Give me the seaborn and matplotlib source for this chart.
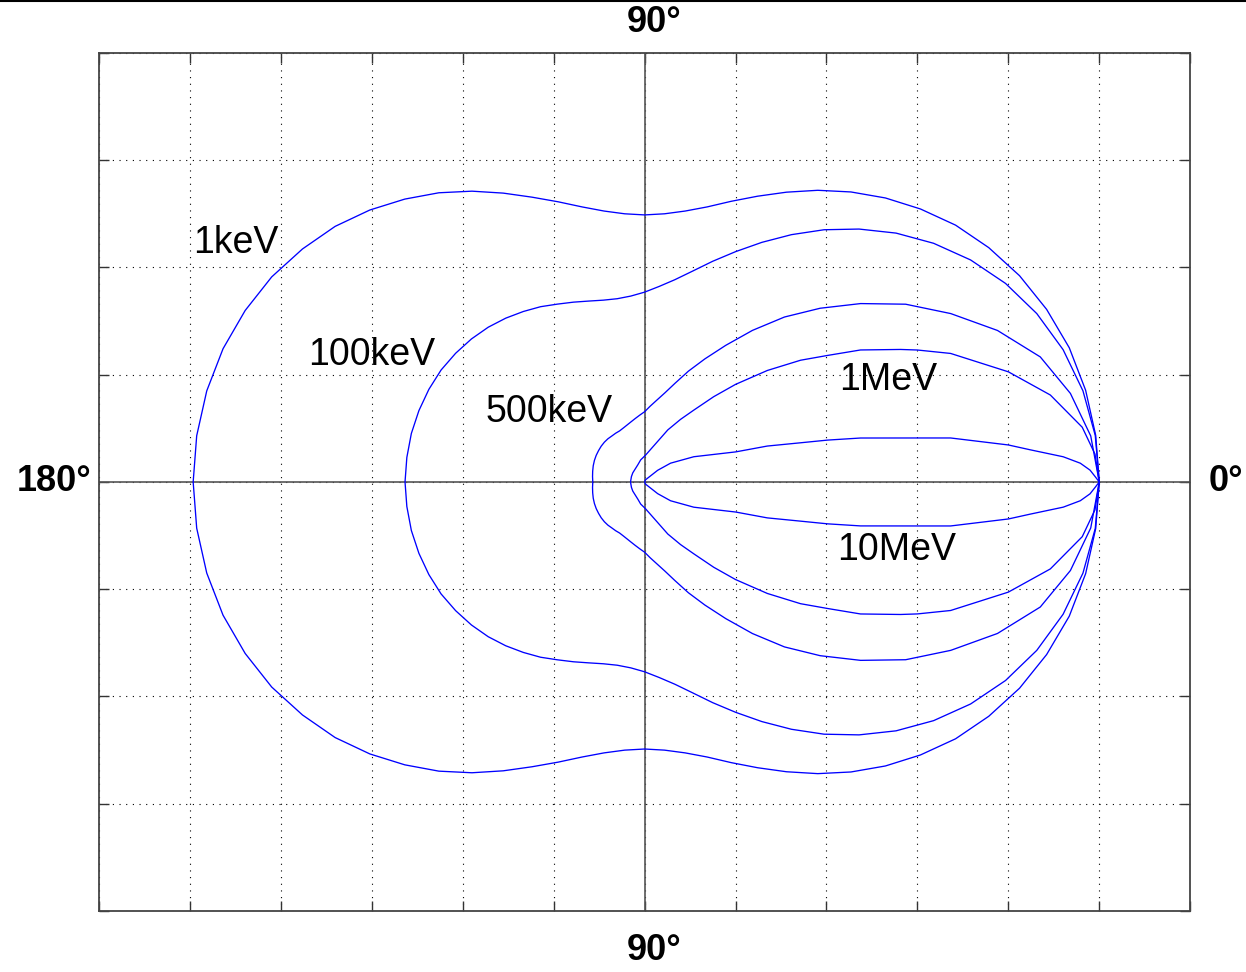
import numpy as np
import pandas as pd
import seaborn as sns
import matplotlib.pyplot as plt

# polar readings of the upper half of each curve: angle (deg) and relative radius
# (the lower half is the mirror image)
labels = ['1keV', '100keV', '500keV', '1MeV', '10MeV']

angles_5 = list(range(0, 181, 5))

r_1kev = [1.000, 0.996, 0.985, 0.967, 0.941, 0.910, 0.874, 0.835, 0.792, 0.749, 0.706, 0.664,
          0.624, 0.588, 0.557, 0.531, 0.513, 0.502, 0.498, 0.502, 0.513, 0.531, 0.556, 0.586,
          0.622, 0.662, 0.704, 0.746, 0.789, 0.831, 0.869, 0.905, 0.935, 0.960, 0.978, 0.989,
          0.993]

r_100kev = [1.000, 0.995, 0.979, 0.953, 0.918, 0.876, 0.828, 0.776, 0.722, 0.667, 0.614, 0.563,
            0.516, 0.474, 0.438, 0.407, 0.383, 0.366, 0.354, 0.348, 0.347, 0.351, 0.359, 0.370,
            0.383, 0.399, 0.415, 0.432, 0.449, 0.465, 0.480, 0.494, 0.505, 0.514, 0.521, 0.525,
            0.527]

r_500kev = [1.000, 0.985, 0.951, 0.901, 0.826, 0.743, 0.663, 0.580, 0.504, 0.435, 0.369, 0.311,
            0.265, 0.228, 0.196, 0.172, 0.155, 0.142, 0.131, 0.125, 0.120, 0.116, 0.113, 0.111,
            0.110, 0.111, 0.112, 0.114, 0.1155, 0.1165, 0.117, 0.1175, 0.1175, 0.117, 0.116,
            0.115, 0.114]

angles_1mev = [0, 3, 6.05, 10.3, 14.4, 19.6, 22.3, 23.7, 27.4, 30.4, 33.5, 37.6, 42.3, 46.3,
               51.1, 55.9, 62.3, 75, 87.7, 102, 115.1, 146.8, 161, 180]
r_1mev = [1.000, 0.992, 0.968, 0.907, 0.826, 0.7145, 0.6485, 0.6148, 0.5349, 0.4662, 0.4113,
          0.3408, 0.2704, 0.220, 0.1721, 0.141, 0.1096, 0.067, 0.050, 0.042, 0.0353, 0.0311,
          0.0307, 0.031]

angles_10mev = [0, 0.58, 1.29, 2.09, 2.92, 4.05, 4.93, 6.95, 7.78, 9.79, 10.98, 12.02, 13.94,
                15.64, 23.5, 31.55, 37.2, 63.4, 180]
r_10mev = [1.000, 0.991, 0.980, 0.959, 0.922, 0.850, 0.803, 0.678, 0.606, 0.482, 0.410, 0.351,
           0.278, 0.208, 0.118, 0.067, 0.036, 0.0045, 0.0]

label_x = [-0.90, -0.60, -0.21, 0.535, 0.555]
label_y = [0.445, 0.237, 0.130, 0.190, -0.127]

curves = [(angles_5, r_1kev), (angles_5, r_100kev), (angles_5, r_500kev),
          (angles_1mev, r_1mev), (angles_10mev, r_10mev)]

rows = []
for name, (ang, rad) in zip(labels, curves):
    ang = np.array(ang, dtype=float)
    rad = np.array(rad, dtype=float)
    # go round the upper half, then back along the mirrored lower half
    th = np.deg2rad(np.concatenate([ang, -ang[::-1]]))
    rr = np.concatenate([rad, rad[::-1]])
    for i, (t, r) in enumerate(zip(th, rr)):
        rows.append({'energy': name, 'order': i, 'x': r * np.cos(t), 'y': r * np.sin(t)})
df = pd.DataFrame(rows)

sns.set_style('white')
plt.rcParams['font.family'] = ['Liberation Sans', 'DejaVu Sans']

fig = plt.figure(figsize=(12.46, 9.72), dpi=100)
ax = fig.add_axes([0.0795, 0.0628, 0.8757, 0.8827])

for name in labels:
    d = df[df['energy'] == name]
    sns.lineplot(data=d, x='x', y='y', sort=False, estimator=None, color='#0000ff',
                 linewidth=0.95, ax=ax)

ax.set_xlim(-1.2, 1.2)
ax.set_ylim(-0.8, 0.8)
ax.set_xticks(np.arange(-1.2, 1.21, 0.2))
ax.set_yticks(np.arange(-0.8, 0.81, 0.2))
ax.set_xticklabels([])
ax.set_yticklabels([])
ax.set_xlabel('')
ax.set_ylabel('')
ax.grid(True, color='black', linestyle=(0, (1, 5)), linewidth=0.8)
ax.tick_params(direction='in', length=7, width=1, color='#333333',
               top=True, right=True, bottom=True, left=True)
for s in ax.spines.values():
    s.set_color('#444444')
    s.set_linewidth(1.3)
ax.axhline(0, color='#555555', linewidth=1.2, zorder=1)
ax.axvline(0, color='#555555', linewidth=1.2, zorder=1)

for name, lx, ly in zip(labels, label_x, label_y):
    ax.text(lx, ly, name, fontsize=27, color='black', ha='center', va='center')

deg_kw = dict(fontsize=26, fontweight='bold', color='black', clip_on=False)
ax.text(0.02, 0.856, '90°', ha='center', va='center', **deg_kw)
ax.text(0.02, -0.874, '90°', ha='center', va='center', **deg_kw)
ax.text(-1.2176, 0.0, '180°', ha='right', va='center', **deg_kw)
ax.text(1.2396, 0.0, '0°', ha='left', va='center', **deg_kw)

fig.add_artist(plt.Line2D([0, 1], [0.999, 0.999], color='black', linewidth=1.5))

fig.savefig('out.png', dpi=100, facecolor='white')
